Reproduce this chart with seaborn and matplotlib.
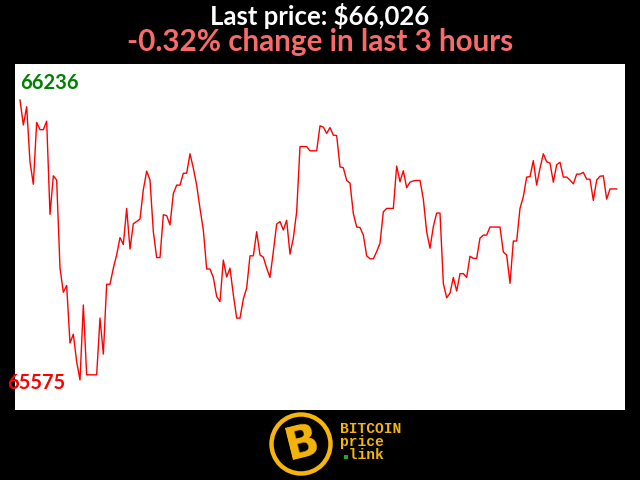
import matplotlib
matplotlib.use("Agg")
import matplotlib.pyplot as plt
from matplotlib.patches import Circle
import numpy as np
import pandas as pd
import seaborn as sns

# ---- data (BTC price, one point per minute over the last 3 hours) ----
prices = [
    66236, 66177, 66220, 66090, 66037, 66183, 66166, 66166, 66186, 65966,
    66057, 66047, 65839, 65782, 65798, 65662, 65683, 65618, 65575, 65752,
    65587, 65587, 65587, 65587, 65721, 65636, 65801, 65801, 65839, 65870,
    65911, 65895, 65980, 65884, 65944, 65949, 65955, 66024, 66068, 66047,
    65925, 65864, 65864, 65965, 65963, 65941, 66015, 66035, 66035, 66063,
    66063, 66109, 66075, 66035, 65980, 65929, 65837, 65837, 65817, 65772,
    65760, 65858, 65818, 65839, 65776, 65721, 65721, 65766, 65792, 65868,
    65868, 65925, 65870, 65865, 65839, 65817, 65878, 65943, 65949, 65929,
    65952, 65872, 65910, 65972, 66126, 66126, 66126, 66116, 66116, 66116,
    66175, 66172, 66157, 66171, 66153, 66152, 66078, 66076, 66046, 66040,
    65968, 65936, 65935, 65917, 65868, 65861, 65861, 65878, 65898, 65972,
    65980, 65980, 65980, 66080, 66043, 66069, 66029, 66042, 66045, 66046,
    66046, 66002, 65925, 65886, 65937, 65969, 65969, 65803, 65769, 65780,
    65817, 65785, 65826, 65826, 65817, 65867, 65862, 65862, 65910, 65917,
    65917, 65936, 65936, 65936, 65936, 65877, 65870, 65803, 65903, 65903,
    65980, 66008, 66054, 66055, 66093, 66035, 66075, 66109, 66090, 66087,
    66042, 66083, 66089, 66054, 66054, 66047, 66038, 66061, 66061, 66065,
    66049, 66049, 65999, 66047, 66056, 66057, 66002, 66026, 66026, 66026,
]
minutes = list(range(len(prices)))

title_text = "Last price: $66,026"
subtitle_text = "-0.32% change in last 3 hours"
max_label = "66236"
min_label = "65575"
logo_text = "BITCOIN\nprice\n link"

df = pd.DataFrame({"minute": minutes, "price": prices})

W, H = 640, 480
fig = plt.figure(figsize=(6.4, 4.8), dpi=100, facecolor="black")

def fx(px):
    return px / W

def fy(py):
    return 1 - py / H

# main plot area (white box)
ax = fig.add_axes([fx(15), fy(410), (625 - 15) / W, (410 - 64) / H])
ax.set_facecolor("white")
sns.lineplot(data=df, x="minute", y="price", ax=ax, color="#ff0000",
             linewidth=1.0)
ax.set_xlim(-1.5, 181.5)
ax.set_ylim(65504, 66321)
ax.set_axis_off()
ax.add_patch(plt.Rectangle((0, 0), 1, 1, transform=ax.transAxes,
                           facecolor="white", zorder=-10))

# titles
fig.text(0.5, fy(16), title_text, color="white", fontsize=18.5,
         fontweight="bold", family="Lato", ha="center", va="center")
fig.text(0.5, fy(42), subtitle_text, color="#f96b6b", fontsize=21.3,
         fontweight="bold", family="Lato", ha="center", va="center")

# min / max labels
fig.text(fx(20), fy(83), max_label, color="#008000", fontsize=14.5,
         fontweight="bold", family="Lato", ha="left", va="center")
fig.text(fx(7), fy(383), min_label, color="#ff0000", fontsize=14.5,
         fontweight="bold", family="Lato", ha="left", va="center")

# logo
gold = "#f5b50a"
lax = fig.add_axes([fx(268), fy(477), 66 / W, 66 / H])
lax.set_xlim(0, 66)
lax.set_ylim(0, 66)
lax.set_axis_off()
lax.add_patch(Circle((33, 33), 29.5, facecolor="black", edgecolor=gold,
                     linewidth=3.2))
lax.text(34, 33, "B", color=gold, fontsize=32, fontweight="bold",
         family="DejaVu Sans", ha="center", va="center", rotation=14)

fig.text(fx(340), fy(442), logo_text, color=gold, fontsize=10.5,
         fontweight="bold", family="Liberation Mono", ha="left",
         va="center", linespacing=0.95)
fig.patches.append(plt.Rectangle((fx(344), fy(459)), 4 / W, 4 / H,
                                 transform=fig.transFigure,
                                 facecolor="#22aa22", edgecolor="none"))

fig.savefig("out.png", dpi=100, facecolor="black")
